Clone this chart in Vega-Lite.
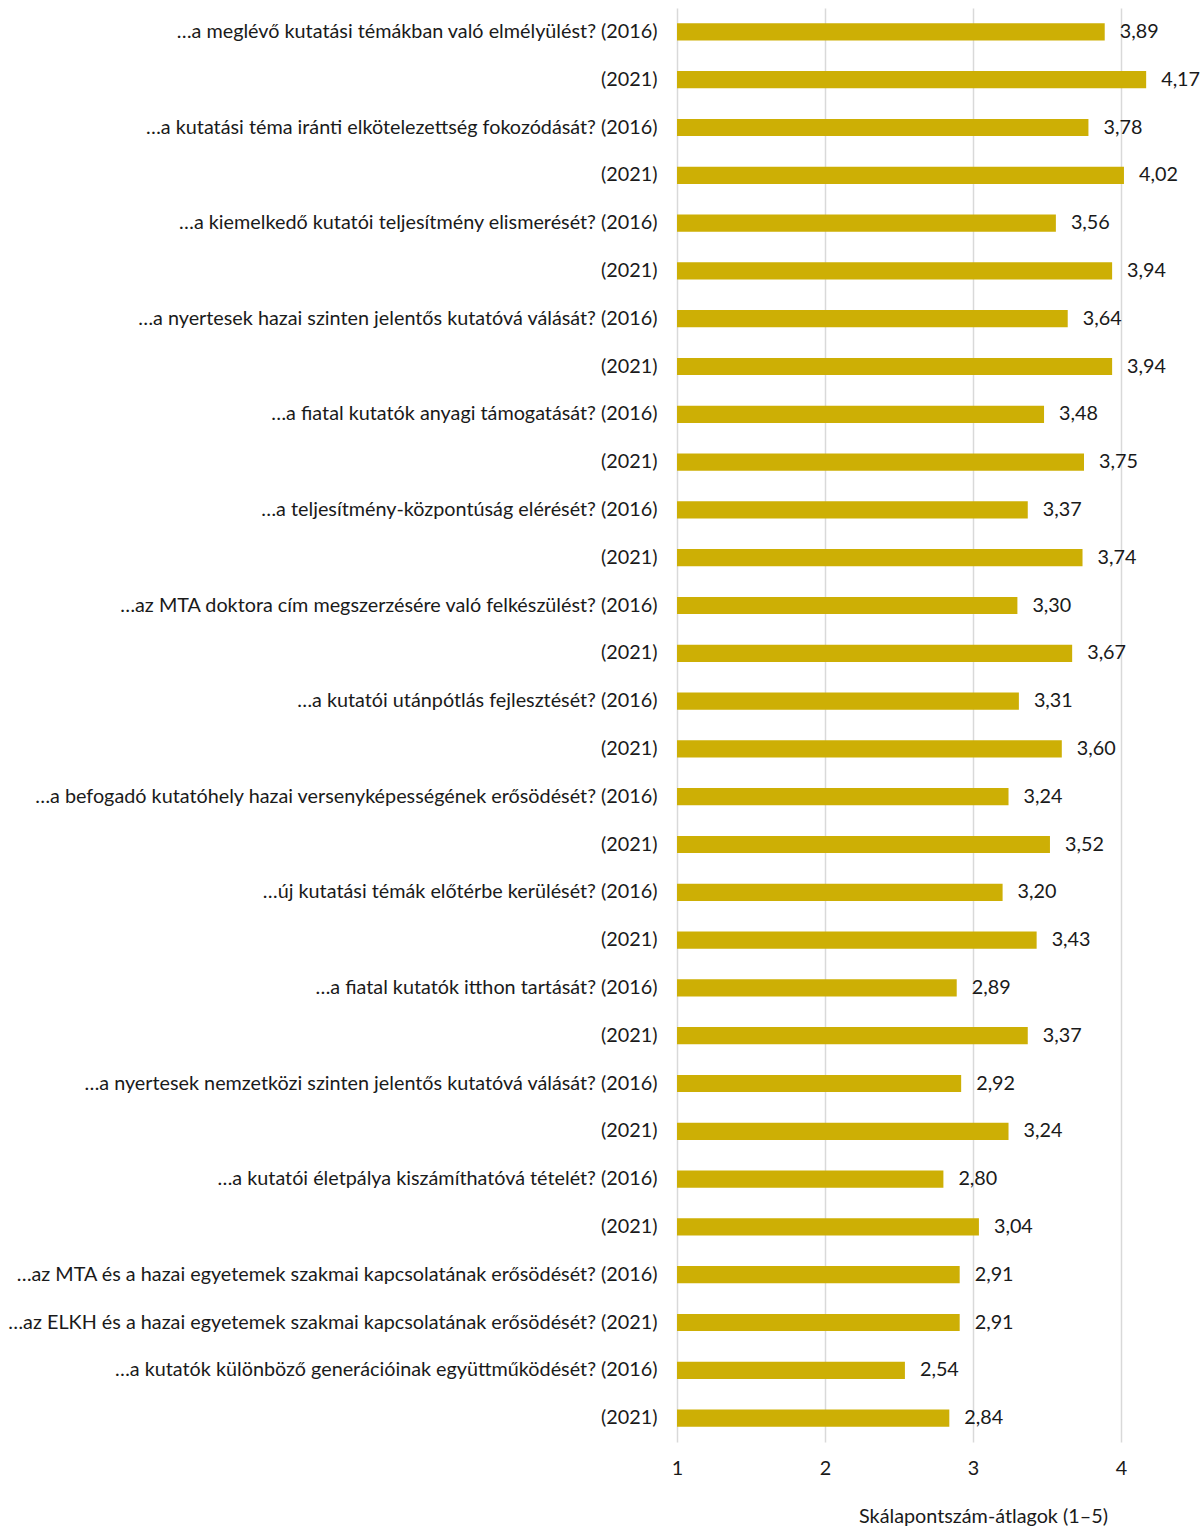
{
  "$schema": "https://vega.github.io/schema/vega-lite/v6.json",
  "autosize": {"type": "none"},
  "padding": {"left": 677, "top": 8, "right": 7, "bottom": 84},
  "width": 518,
  "height": 1434,
  "config": {
    "font": "Lato",
    "view": {"stroke": null},
    "locale": {"number": {"decimal": ",", "thousands": " ", "grouping": [3], "currency": ["", ""]}}
  },
  "data": {
    "values": [
      {"key": "…a meglévő kutatási témákban való elmélyülést? (2016)|1", "value": 3.89},
      {"key": "(2021)|2", "value": 4.17},
      {"key": "…a kutatási téma iránti elkötelezettség fokozódását? (2016)|3", "value": 3.78},
      {"key": "(2021)|4", "value": 4.02},
      {"key": "…a kiemelkedő kutatói teljesítmény elismerését? (2016)|5", "value": 3.56},
      {"key": "(2021)|6", "value": 3.94},
      {"key": "…a nyertesek hazai szinten jelentős kutatóvá válását? (2016)|7", "value": 3.64},
      {"key": "(2021)|8", "value": 3.94},
      {"key": "…a fiatal kutatók anyagi támogatását? (2016)|9", "value": 3.48},
      {"key": "(2021)|10", "value": 3.75},
      {"key": "…a teljesítmény-központúság elérését? (2016)|11", "value": 3.37},
      {"key": "(2021)|12", "value": 3.74},
      {"key": "…az MTA doktora cím megszerzésére való felkészülést? (2016)|13", "value": 3.30},
      {"key": "(2021)|14", "value": 3.67},
      {"key": "…a kutatói utánpótlás fejlesztését? (2016)|15", "value": 3.31},
      {"key": "(2021)|16", "value": 3.60},
      {"key": "…a befogadó kutatóhely hazai versenyképességének erősödését? (2016)|17", "value": 3.24},
      {"key": "(2021)|18", "value": 3.52},
      {"key": "…új kutatási témák előtérbe kerülését? (2016)|19", "value": 3.20},
      {"key": "(2021)|20", "value": 3.43},
      {"key": "…a fiatal kutatók itthon tartását? (2016)|21", "value": 2.89},
      {"key": "(2021)|22", "value": 3.37},
      {"key": "…a nyertesek nemzetközi szinten jelentős kutatóvá válását? (2016)|23", "value": 2.92},
      {"key": "(2021)|24", "value": 3.24},
      {"key": "…a kutatói életpálya kiszámíthatóvá tételét? (2016)|25", "value": 2.80},
      {"key": "(2021)|26", "value": 3.04},
      {"key": "…az MTA és a hazai egyetemek szakmai kapcsolatának erősödését? (2016)|27", "value": 2.91},
      {"key": "…az ELKH és a hazai egyetemek szakmai kapcsolatának erősödését? (2021)|28", "value": 2.91},
      {"key": "…a kutatók különböző generációinak együttműködését? (2016)|29", "value": 2.54},
      {"key": "(2021)|30", "value": 2.84}
    ]
  },
  "encoding": {
    "y": {
      "field": "key",
      "type": "nominal",
      "sort": null,
      "scale": {"paddingInner": 0.64, "paddingOuter": 0.32},
      "axis": {
        "title": null,
        "domain": false,
        "ticks": false,
        "labelPadding": 20,
        "labelFontSize": 19.8,
        "labelColor": "#1a1a1a",
        "labelLimit": 0,
        "labelExpr": "split(datum.label, '|')[0]"
      }
    }
  },
  "layer": [
    {
      "mark": {"type": "bar", "color": "#CDAF05"},
      "encoding": {
        "x": {
          "field": "value",
          "type": "quantitative",
          "scale": {"domain": [1, 4.5], "nice": false, "zero": false},
          "axis": {
            "values": [1, 2, 3, 4],
            "format": "d",
            "domain": false,
            "ticks": false,
            "grid": true,
            "gridColor": "#d9d9d9",
            "gridWidth": 1.5,
            "labelFlush": false,
            "labelPadding": 16,
            "labelFontSize": 19.8,
            "labelColor": "#1a1a1a",
            "title": "Skálapontszám-átlagok (1–5)",
            "titleFontSize": 19.8,
            "titleFontWeight": "normal",
            "titleColor": "#1a1a1a",
            "titleX": 306,
            "titleY": 64,
            "titleBaseline": "top"
          }
        },
        "x2": {"datum": 1}
      }
    },
    {
      "mark": {"type": "text", "align": "left", "dx": 15, "fontSize": 19.8, "color": "#1a1a1a"},
      "encoding": {
        "x": {"field": "value", "type": "quantitative"},
        "text": {"field": "value", "type": "quantitative", "format": ".2f"}
      }
    }
  ]
}
